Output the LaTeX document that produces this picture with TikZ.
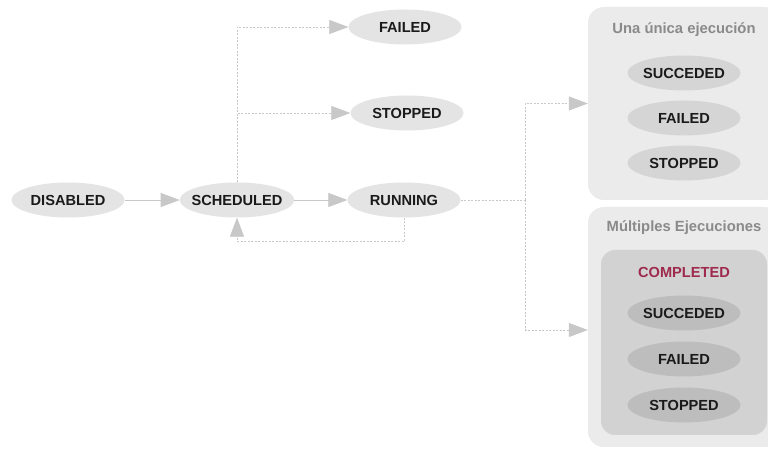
\documentclass[tikz,border=0pt]{standalone}
\usepackage{fontspec}
\setmainfont{Liberation Sans}
\usetikzlibrary{shapes.geometric,arrows.meta,positioning,calc}
\definecolor{elA}{HTML}{E4E4E4}
\definecolor{elB}{HTML}{D5D5D5}
\definecolor{elC}{HTML}{BDBDBD}
\definecolor{boxA}{HTML}{EBEBEB}
\definecolor{boxB}{HTML}{D2D2D2}
\definecolor{lineC}{HTML}{C8C8C8}
\definecolor{titleC}{HTML}{8A8A8A}
\definecolor{compC}{HTML}{9E2A4E}
\definecolor{txtC}{HTML}{1A1A1A}
\tikzset{
  lbl/.style={font=\fontsize{14.6}{17}\selectfont\bfseries, text=txtC},
  state/.style={lbl, ellipse, fill=elA, minimum width=113pt, minimum height=35pt, inner xsep=-5pt, inner ysep=0pt},
  stateB/.style={state, fill=elB},
  stateC/.style={state, fill=elC},
  group/.style={rectangle, rounded corners=16pt, inner sep=0pt},
  gtitle/.style={font=\fontsize{14.8}{17}\selectfont\bfseries, text=titleC},
  conn/.style={draw=lineC, line width=0.8pt, -{Triangle[length=19pt,width=14pt,fill=lineC]}},
  dconn/.style={conn, dash pattern=on 2pt off 1.5pt},
  dline/.style={draw=lineC, line width=0.8pt, dash pattern=on 2pt off 1.5pt}
}
\begin{document}
\begin{tikzpicture}[x=1pt,y=1pt]
\clip (0,0) rectangle (768,449);
\fill[white] (0,0) rectangle (768,449);
% containers
\node[group, fill=boxA, minimum width=192pt, minimum height=193pt] (c1) at (684,345.5) {};
\node[group, fill=boxA, minimum width=192pt, minimum height=240pt] (c2) at (684,122) {};
\node[group, fill=boxB, minimum width=166pt, minimum height=185pt, rounded corners=14pt] (c2in) at (684,106.5) {};
\node[gtitle] (t1) at (684,419) {Una única ejecución};
\node[gtitle] (t2) at (684,221) {Múltiples Ejecuciones};
\node[lbl, text=compC] (comp) at (684,177) {COMPLETED};
% states
\node[state] (dis) at (68,249) {DISABLED};
\node[state] (sch) at (237,249) {SCHEDULED};
\node[state] (run) at (404,249) {RUNNING};
\node[state] (fail) at (405,422) {FAILED};
\node[state] (stop) at (407,336) {STOPPED};
\node[stateB] (s1) at (684,376) {SUCCEDED};
\node[stateB] (f1) at (684,331) {FAILED};
\node[stateB] (p1) at (684,286) {STOPPED};
\node[stateC] (s2) at (684,136) {SUCCEDED};
\node[stateC] (f2) at (684,90) {FAILED};
\node[stateC] (p2) at (684,44) {STOPPED};
% connectors
\draw[conn] (dis) -- (sch);
\draw[conn] (sch) -- (run);
\draw[dconn] (sch.north) |- (fail.west);
\draw[dconn] (sch.north) |- (stop.west);
\coordinate (lp) at ($(run.south)+(0,-24)$);
\draw[dconn] (run.south) -- (lp) -| (sch.south);
\coordinate (j) at (525,249);
\draw[dline] (run.east) -- (j);
\draw[dconn] (j) |- (c1.west);
\draw[dconn] (j) |- ($(c2.west)+(0,-3)$);
\end{tikzpicture}
\end{document}
